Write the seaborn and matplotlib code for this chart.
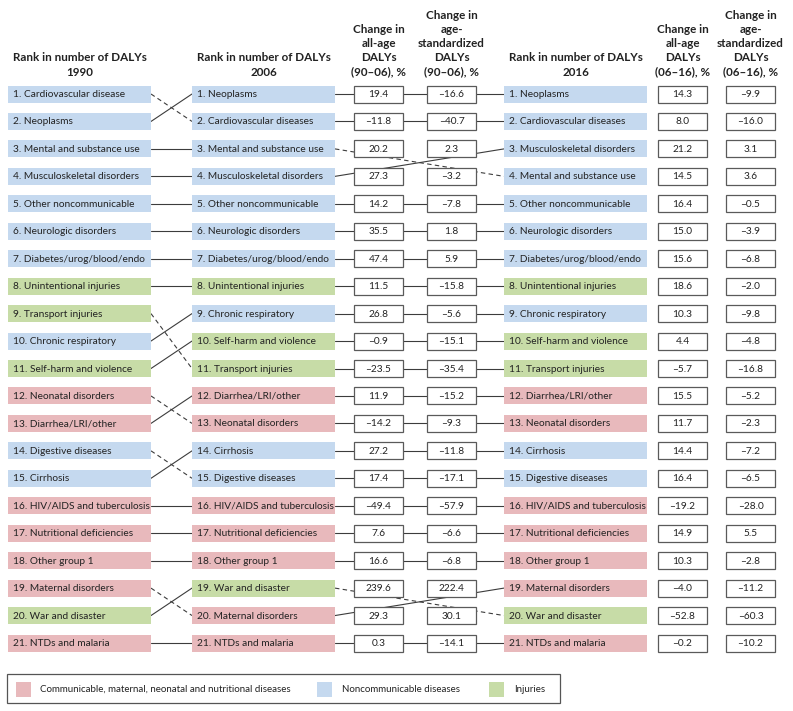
import matplotlib.pyplot as plt
import seaborn as sns
from matplotlib.patches import Rectangle

# ranked causes (top = rank 1)
rank_1990 = ["Cardiovascular disease", "Neoplasms", "Mental and substance use",
             "Musculoskeletal disorders", "Other noncommunicable", "Neurologic disorders",
             "Diabetes/urog/blood/endo", "Unintentional injuries", "Transport injuries",
             "Chronic respiratory", "Self-harm and violence", "Neonatal disorders",
             "Diarrhea/LRI/other", "Digestive diseases", "Cirrhosis",
             "HIV/AIDS and tuberculosis", "Nutritional deficiencies", "Other group 1",
             "Maternal disorders", "War and disaster", "NTDs and malaria"]
rank_2006 = ["Neoplasms", "Cardiovascular diseases", "Mental and substance use",
             "Musculoskeletal disorders", "Other noncommunicable", "Neurologic disorders",
             "Diabetes/urog/blood/endo", "Unintentional injuries", "Chronic respiratory",
             "Self-harm and violence", "Transport injuries", "Diarrhea/LRI/other",
             "Neonatal disorders", "Cirrhosis", "Digestive diseases",
             "HIV/AIDS and tuberculosis", "Nutritional deficiencies", "Other group 1",
             "War and disaster", "Maternal disorders", "NTDs and malaria"]
rank_2016 = ["Neoplasms", "Cardiovascular diseases", "Musculoskeletal disorders",
             "Mental and substance use", "Other noncommunicable", "Neurologic disorders",
             "Diabetes/urog/blood/endo", "Unintentional injuries", "Chronic respiratory",
             "Self-harm and violence", "Transport injuries", "Diarrhea/LRI/other",
             "Neonatal disorders", "Cirrhosis", "Digestive diseases",
             "HIV/AIDS and tuberculosis", "Nutritional deficiencies", "Other group 1",
             "Maternal disorders", "War and disaster", "NTDs and malaria"]

# % changes, in 2006 rank order / 2016 rank order
allage_90_06 = [19.4, -11.8, 20.2, 27.3, 14.2, 35.5, 47.4, 11.5, 26.8, -0.9, -23.5,
                11.9, -14.2, 27.2, 17.4, -49.4, 7.6, 16.6, 239.6, 29.3, 0.3]
agestd_90_06 = [-16.6, -40.7, 2.3, -3.2, -7.8, 1.8, 5.9, -15.8, -5.6, -15.1, -35.4,
                -15.2, -9.3, -11.8, -17.1, -57.9, -6.6, -6.8, 222.4, 30.1, -14.1]
allage_06_16 = [14.3, 8.0, 21.2, 14.5, 16.4, 15.0, 15.6, 18.6, 10.3, 4.4, -5.7,
                15.5, 11.7, 14.4, 16.4, -19.2, 14.9, 10.3, -4.0, -52.8, -0.2]
agestd_06_16 = [-9.9, -16.0, 3.1, 3.6, -0.5, -3.9, -6.8, -2.0, -9.8, -4.8, -16.8,
                -5.2, -2.3, -7.2, -6.5, -28.0, 5.5, -2.8, -11.2, -60.3, -10.2]

communicable = ["Neonatal disorders", "Diarrhea/LRI/other", "HIV/AIDS and tuberculosis",
                "Nutritional deficiencies", "Other group 1", "Maternal disorders",
                "NTDs and malaria"]
injuries = ["Unintentional injuries", "Transport injuries", "Self-harm and violence",
            "War and disaster"]
legend_labels = ["Communicable, maternal, neonatal and nutritional diseases",
                 "Noncommunicable diseases", "Injuries"]

sns.set_theme(style="white")
plt.rcParams['font.family'] = ['Lato', 'DejaVu Sans']
pal = {"C": "#e8b9bc", "N": "#c5d9ef", "I": "#c7dca7"}
LINE = "#3c3c3c"
BOX = "#5a5a5a"


def group(name):
    if name in communicable:
        return "C"
    if name in injuries:
        return "I"
    return "N"


def key(name):
    return name.rstrip("s")


def fmt(v):
    return f"{v:.1f}".replace("-", "\u2013")


fig = plt.figure(figsize=(7.93, 7.11), dpi=100)
ax = fig.add_axes([0, 0, 1, 1])
ax.set_xlim(0, 793)
ax.set_ylim(711, 0)
ax.axis("off")

row_y = lambda r: 94 + 27.45 * r
lab_h, box_h = 17, 17
cols = [(8, 143), (192, 143), (504, 143)]   # label columns: left, width
boxes = [(354, 49), (427, 49), (658, 49), (726, 49)]


def labels(col, names):
    x0, w = col
    for r, n in enumerate(names):
        y = row_y(r)
        ax.add_patch(Rectangle((x0, y - lab_h / 2), w, lab_h, fc=pal[group(n)],
                               ec="none", zorder=2))
        ax.text(x0 + 5, y + 0.5, f"{r + 1}. {n}", va="center", ha="left",
                fontsize=7.3, color="#222222", zorder=3)


def values(bx, vals):
    x0, w = bx
    for r, v in enumerate(vals):
        y = row_y(r)
        ax.add_patch(Rectangle((x0, y - box_h / 2), w, box_h, fc="white",
                               ec=BOX, lw=0.9, zorder=3))
        ax.text(x0 + w / 2, y + 0.5, fmt(v), va="center", ha="center",
                fontsize=7.3, color="#222222", zorder=4)


def links(a, b, xa, xb):
    pos_b = {key(n): r for r, n in enumerate(b)}
    for r, n in enumerate(a):
        r2 = pos_b[key(n)]
        ls = (0, (4, 3)) if r2 > r else "-"
        ax.plot([xa, xb], [row_y(r), row_y(r2)], color=LINE, lw=0.8, ls=ls, zorder=1)


labels(cols[0], rank_1990)
labels(cols[1], rank_2006)
labels(cols[2], rank_2016)
values(boxes[0], allage_90_06)
values(boxes[1], agestd_90_06)
values(boxes[2], allage_06_16)
values(boxes[3], agestd_06_16)
links(rank_1990, rank_2006, cols[0][0] + cols[0][1], cols[1][0])
links(rank_2006, rank_2016, cols[1][0] + cols[1][1], cols[2][0])

# headers
headers = [
    (cols[0][0] + cols[0][1] / 2, ["Rank in number of DALYs", "1990"]),
    (cols[1][0] + cols[1][1] / 2, ["Rank in number of DALYs", "2006"]),
    (cols[2][0] + cols[2][1] / 2, ["Rank in number of DALYs", "2016"]),
    (boxes[0][0] + boxes[0][1] / 2, ["Change in", "all-age", "DALYs", "(90\u201306), %"]),
    (boxes[1][0] + boxes[1][1] / 2, ["Change in", "age-", "standardized", "DALYs", "(90\u201306), %"]),
    (boxes[2][0] + boxes[2][1] / 2, ["Change in", "all-age", "DALYs", "(06\u201316), %"]),
    (boxes[3][0] + boxes[3][1] / 2, ["Change in", "age-", "standardized", "DALYs", "(06\u201316), %"]),
]
for x, lines in headers:
    for j, line in enumerate(reversed(lines)):
        ax.text(x, 72 - 14.2 * j, line, ha="center", va="center", fontsize=8.4,
                fontweight="bold", color="#222222")

# legend
ax.add_patch(Rectangle((7, 674), 553, 29, fc="white", ec="#555555", lw=0.9))
for (sx, tx), g, lab in zip([(16, 40), (317, 342), (489, 514)], ["C", "N", "I"], legend_labels):
    ax.add_patch(Rectangle((sx, 682), 15, 15, fc=pal[g], ec="none"))
    ax.text(tx, 689.5, lab, va="center", ha="left", fontsize=7.0, color="#222222")

fig.savefig("out.png", dpi=100)
